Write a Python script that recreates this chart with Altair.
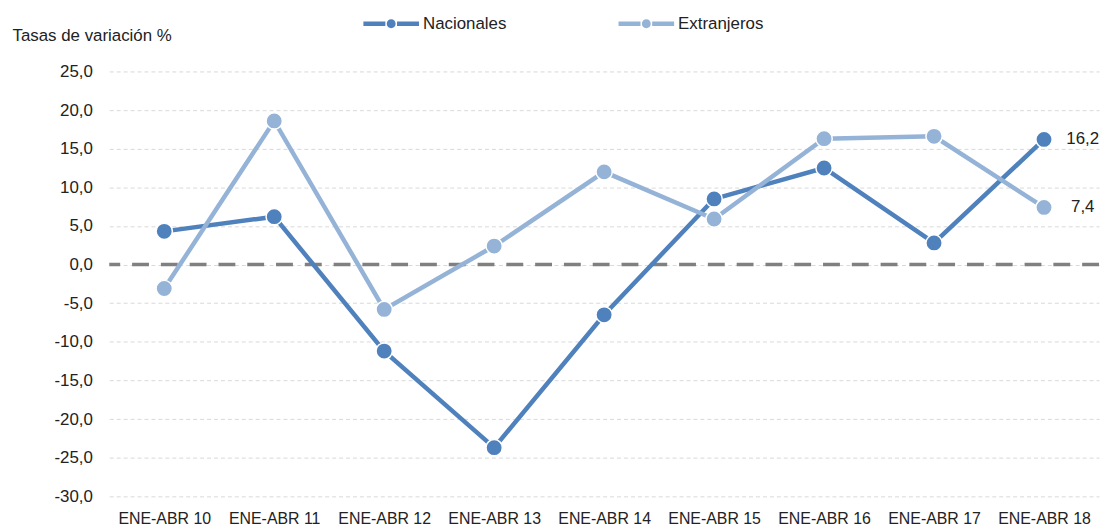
import altair as alt
import pandas as pd

periods = ["ENE-ABR 10", "ENE-ABR 11", "ENE-ABR 12", "ENE-ABR 13", "ENE-ABR 14",
           "ENE-ABR 15", "ENE-ABR 16", "ENE-ABR 17", "ENE-ABR 18"]
nacionales = [4.3, 6.2, -11.2, -23.7, -6.5, 8.5, 12.5, 2.8, 16.2]
extranjeros = [-3.1, 18.6, -5.8, 2.4, 12.0, 5.9, 16.3, 16.6, 7.4]
series = ["Nacionales", "Extranjeros"]
colors = ["#4F81BD", "#95B3D7"]
y_ticks = [-30, -25, -20, -15, -10, -5, 0, 5, 10, 15, 20, 25]

rows = []
for s, vals in zip(series, [nacionales, extranjeros]):
    for p, v in zip(periods, vals):
        rows.append({"periodo": p, "serie": s, "valor": v,
                     "etiqueta": f"{v:.1f}".replace(".", ",")})
df = pd.DataFrame(rows)

FONT = "Liberation Sans"
TXT = "#222222"

legend_path = ("M-1,-0.08L-0.21,-0.08L-0.21,0.08L-1,0.08Z "
               "M0.21,-0.08L1,-0.08L1,0.08L0.21,0.08Z "
               "M-0.16,0A0.16,0.16,0,1,0,0.16,0A0.16,0.16,0,1,0,-0.16,0Z")

x_axis = alt.Axis(labelAngle=0, domain=False, ticks=False, grid=False,
                  labelPadding=14, labelFontSize=16, labelFont=FONT,
                  labelColor=TXT)
y_axis = alt.Axis(values=y_ticks, labelOverlap=False,
                  labelExpr="replace(replace(format(datum.value, '.1f'), '.', ','), '\u2212', '-')",
                  grid=True, gridDash=[4, 3], gridColor="#d9d9d9", gridWidth=1,
                  domain=False, ticks=False, labelPadding=17,
                  labelFontSize=17, labelFont=FONT, labelColor=TXT,
                  title="Tasas de variación %", titleAngle=0,
                  titleX=-98, titleY=-31, titleAlign="left",
                  titleBaseline="alphabetic", titleFontWeight="normal",
                  titleFontSize=17, titleFont=FONT, titleColor=TXT)
y_scale = alt.Scale(domain=[-30, 25], nice=False, zero=False)

x_enc = alt.X("periodo:N", sort=periods, title=None, axis=x_axis)
y_enc = alt.Y("valor:Q", scale=y_scale, axis=y_axis)


def make_legend():
    return alt.Legend(title=None, orient="none", legendX=256, legendY=-76,
                      direction="horizontal", symbolType=legend_path,
                      symbolSize=3136, symbolStrokeWidth=0, symbolOpacity=1,
                      labelFontSize=17, labelFont=FONT, labelColor=TXT,
                      labelOffset=4, columnPadding=112)


color_scale = alt.Scale(domain=series, range=colors)

base = alt.Chart(df)

zero = alt.Chart(pd.DataFrame({"cero": [0]})).mark_rule(
    color="#808080", strokeWidth=3.5, strokeDash=[17, 12]
).encode(y=alt.Y("cero:Q", scale=y_scale, axis=y_axis))

lines = base.mark_line(strokeWidth=4.5).encode(
    x=x_enc, y=y_enc,
    color=alt.Color("serie:N", scale=color_scale, sort=series, legend=make_legend()),
)

points = base.mark_point(filled=True, size=270, stroke="white", strokeWidth=1.5,
                         opacity=1).encode(
    x=x_enc, y=y_enc,
    fill=alt.Fill("serie:N", scale=color_scale, sort=series, legend=make_legend()),
)

labels = base.transform_filter(alt.datum.periodo == periods[-1]).mark_text(
    align="center", baseline="middle", dx=39, fontSize=17, font=FONT, color=TXT
).encode(x=x_enc, y=y_enc, text="etiqueta:N")

chart = alt.layer(zero, lines, points, labels).properties(
    width=997, height=428,
    autosize=alt.AutoSizeParams(type="none"),
    padding={"left": 102, "top": 62, "right": 2, "bottom": 32},
    background="white",
).configure_view(stroke=None)

chart.save("out.html", embed_options={"renderer": "svg", "actions": False})
